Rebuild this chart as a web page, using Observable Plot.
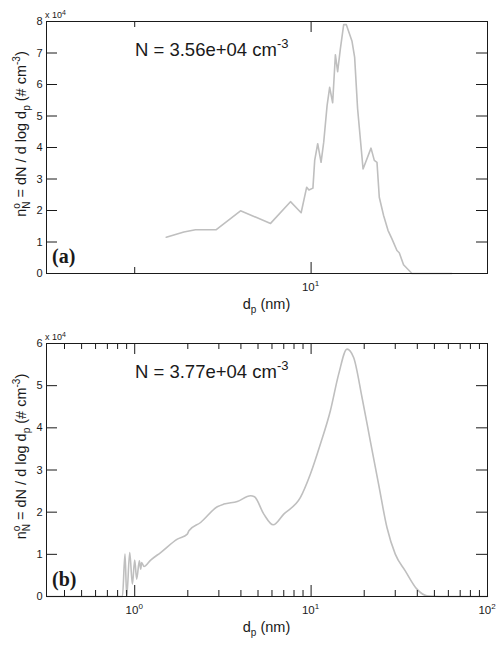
<!DOCTYPE html>
<html>
<head>
<meta charset="utf-8">
<script src="https://cdn.jsdelivr.net/npm/d3@7"></script>
<script src="https://cdn.jsdelivr.net/npm/@observablehq/plot@0.6"></script>
<style>
  body { margin: 0; background: #fff; }
  #chart svg { display: block; }
</style>
</head>
<body>
<div id="chart"></div>
<script>
// ---- Panel (a) data ----
const dpA = [1.51,1.90,2.21,2.90,3.98,5.89,7.64,8.78,9.44,9.72,10.24,10.48,10.90,11.39,11.79,12.32,12.74,13.25,13.73,14.14,14.65,15.30,15.84,17.06,17.65,18.35,19.70,21.86,22.82,23.63,24.35,25.76,27.28,28.73,30.67,31.6,33.42,37.3,62.8];
const nA  = [11500,13200,13900,13900,19900,15900,22800,19300,27400,26500,27100,35900,41200,35300,41700,53300,59100,54200,69400,64100,71300,79000,79000,73700,68700,52300,33200,39800,35900,35300,24200,18400,13700,11000,7300,6600,2800,0,0];

// ---- Panel (b) data ----
const dpB = [0.318,0.852,0.881,0.901,0.937,0.970,1.000,1.026,1.063,1.081,1.095,1.129,1.232,1.403,1.745,1.987,2.029,2.363,2.938,3.202,3.813,4.535,4.776,5.393,6.095,6.998,8.700,9.91,11.29,12.86,14.33,15.98,17.42,19.44,21.65,24.13,26.92,30.00,34.18,39.8,45.35,53.9,100];
const nB  = [0,0,10050,0,10430,2940,8630,4130,8470,6500,8060,7110,8630,10430,13610,14800,15580,17550,21270,21910,22530,23880,23640,19540,17000,19540,23480,29030,36140,44040,52740,58670,56680,47190,36920,26650,16360,10050,6090,1750,170,0,0];

// ---- Axes / ticks / labels ----
const xDomain = [0.3162, 100];
const yTicksA = [0,10000,20000,30000,40000,50000,60000,70000,80000];
const yTicksB = [0,10000,20000,30000,40000,50000,60000];
const xMajorA = [10];
const xMinorA = [1];
const xLabelsA = [[10, "1"]];
const xMajorB = [1, 10, 100];
const xMinorB = [0.4,0.5,0.6,0.7,0.8,0.9,2,3,4,5,6,7,8,9,20,30,40,50,60,70,80,90];
const xLabelsB = [[1, "0"], [10, "1"], [100, "2"]];
const totalA = "N = 3.56e+04 cm";
const totalB = "N = 3.77e+04 cm";

const W = 500, ML = 46, MR = 13;
const LINE = "#bfbfbf", INK = "#1a1a1a";
const SANS = "'Liberation Sans', Arial, Helvetica, sans-serif";

function panel({dp, n, yMax, yTicks, xMajor, xMinor, xLabels, total, tag, height, mt, mb, curve}) {
  const ih = height - mt - mb, iw = W - ML - MR;
  const data = dp.map((d, i) => ({d, v: n[i]}));
  const svg = Plot.plot({
    width: W, height, marginLeft: ML, marginRight: MR, marginTop: mt, marginBottom: mb,
    style: {fontFamily: SANS, fontSize: "11px", color: INK, background: "white"},
    x: {type: "log", domain: xDomain, axis: null},
    y: {domain: [0, yMax], axis: null},
    marks: [
      Plot.line(data, {x: "d", y: "v", stroke: LINE, strokeWidth: 1.6, curve}),
      // x ticks (inward, bottom and top)
      Plot.ruleX(xMajor, {x: d => d, insetTop: ih - 11, stroke: INK}),
      Plot.ruleX(xMajor, {x: d => d, insetBottom: ih - 11, stroke: INK}),
      Plot.ruleX(xMinor, {x: d => d, insetTop: ih - 6, stroke: INK}),
      Plot.ruleX(xMinor, {x: d => d, insetBottom: ih - 6, stroke: INK}),
      // y ticks (inward, left and right)
      Plot.ruleY(yTicks, {y: d => d, insetRight: iw - 11, stroke: INK}),
      Plot.ruleY(yTicks, {y: d => d, insetLeft: iw - 11, stroke: INK}),
      Plot.axisY(yTicks, {tickSize: 0, tickPadding: 4, tickFormat: d => d / 10000, label: null, fontSize: 11, fill: INK}),
      Plot.frame({stroke: INK, strokeWidth: 1})
    ]
  });
  const s = d3.select(svg);
  const xs = svg.scale("x");
  const bottom = height - mb, top = mt;
  // x tick labels 10^k
  for (const [v, e] of xLabels) {
    const t = s.append("text").attr("x", xs.apply(v)).attr("y", bottom + 18)
      .attr("text-anchor", "middle").attr("font-family", SANS).attr("font-size", 11.5).attr("fill", INK);
    t.append("tspan").text("10");
    t.append("tspan").attr("font-size", 8).attr("dy", -5).text(e);
  }
  // x 10^4 multiplier
  const m = s.append("text").attr("x", ML - 1).attr("y", top - 3).attr("text-anchor", "start")
    .attr("font-family", SANS).attr("font-size", 9).attr("fill", INK);
  m.append("tspan").text("x 10");
  m.append("tspan").attr("font-size", 7).attr("dy", -3).text("4");
  // x axis label
  const xl = s.append("text").attr("x", ML + iw / 2).attr("y", bottom + 36)
    .attr("text-anchor", "middle").attr("font-family", SANS).attr("font-size", 14.5).attr("fill", INK);
  xl.append("tspan").text("d");
  xl.append("tspan").attr("font-size", 10).attr("dy", 4).text("p");
  xl.append("tspan").attr("dy", -4).text(" (nm)");
  // y axis label (rotated)
  const yc = top + ih / 2 - 13;
  const yl = s.append("text").attr("transform", `translate(26,${yc}) rotate(-90)`)
    .attr("text-anchor", "middle").attr("font-family", SANS).attr("font-size", 14.5).attr("fill", INK);
  yl.append("tspan").text("n");
  yl.append("tspan").attr("font-size", 10).attr("dy", -6).text("o");
  yl.append("tspan").attr("font-size", 10).attr("dx", -5.6).attr("dy", 10).text("N");
  yl.append("tspan").attr("dy", -4).text(" = dN / d log d");
  yl.append("tspan").attr("font-size", 10).attr("dy", 4).text("p");
  yl.append("tspan").attr("dy", -4).text(" (# cm");
  yl.append("tspan").attr("font-size", 10).attr("dy", -6).text("-3");
  yl.append("tspan").attr("dy", 6).text(")");
  // total number annotation
  const an = s.append("text").attr("x", 135).attr("y", top + 35).attr("text-anchor", "start")
    .attr("font-family", SANS).attr("font-size", 18.5).attr("fill", INK);
  an.append("tspan").text(total);
  an.append("tspan").attr("font-size", 13).attr("dy", -8).text("-3");
  // panel tag
  s.append("text").attr("x", 52).attr("y", bottom - 10).attr("text-anchor", "start")
    .attr("font-family", "'Liberation Serif', 'Times New Roman', serif").attr("font-weight", "bold")
    .attr("font-size", 20).attr("fill", INK).text(tag);
  return svg;
}

const root = document.getElementById("chart");
root.append(panel({dp: dpA, n: nA, yMax: 80000, yTicks: yTicksA, xMajor: xMajorA, xMinor: xMinorA,
  xLabels: xLabelsA, total: totalA, tag: "(a)", height: 321, mt: 21, mb: 48, curve: "linear"}));
root.append(panel({dp: dpB, n: nB, yMax: 60000, yTicks: yTicksB, xMajor: xMajorB, xMinor: xMinorB,
  xLabels: xLabelsB, total: totalB, tag: "(b)", height: 326, mt: 22, mb: 51, curve: "monotone-x"}));
</script>
</body>
</html>
